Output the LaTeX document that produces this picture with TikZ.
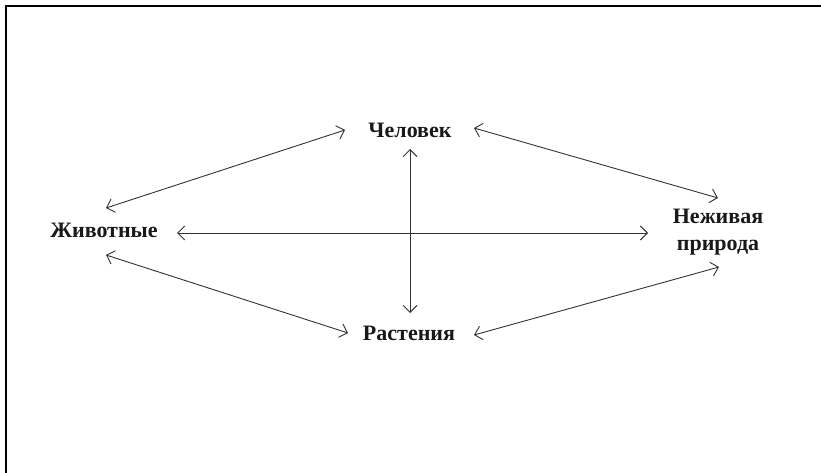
\documentclass[tikz,border=0pt]{standalone}
\usepackage{fontspec}
\setmainfont{Liberation Serif}
\usepackage{tikz}
\usetikzlibrary{
	arrows.meta,
	positioning
}

\begin{document}
\begin{tikzpicture}[
					x=1pt, y=-1pt,
					word/.style={
					inner sep=0pt, align=center,
					font=\fontsize{22}{27}\selectfont\bfseries,
					text=black!90
				},
				link/.style={
					{Straight Barb[length=7pt,width=14pt]}-{Straight Barb[length=7pt,width=14pt]},
					line width=0.9pt, draw=black!80
				},
				frame/.style={line width=1.4pt, draw=black},
				]
				\useasboundingbox (0,0) rectangle (821,473);
				\draw[frame] (6,473) -- (6,6) -- (821,6);
				
				%nodes
				\node[word] (chel) at (410,130) {Человек};
				\node[word] (zhiv) at (104,230) {Животные};
				\node[word] (nezh) at (718,232) {Неживая\\природа};
				\node[word] (rast) at (409,333) {Растения};
				
				%outer arrows
				\draw[link] ([shift={(2,-22)}]zhiv.center) -- ([shift={(-65,0)}]chel.center);
				\draw[link] ([shift={(64,-2)}]chel.center) -- ([shift={(0,-34)}]nezh.center);
				\draw[link] ([shift={(2,25)}]zhiv.center) -- ([shift={(-61,0)}]rast.center);
				\draw[link] ([shift={(65,2)}]rast.center) -- ([shift={(1,35)}]nezh.center);
				
				%cross
				\draw[link] ([shift={(73,3)}]zhiv.center) -- ([shift={(-70,1)}]nezh.center);
				\draw[link] ([shift={(0,19)}]chel.center) -- ([shift={(1,-20)}]rast.center);
			\end{tikzpicture}
\end{document}
